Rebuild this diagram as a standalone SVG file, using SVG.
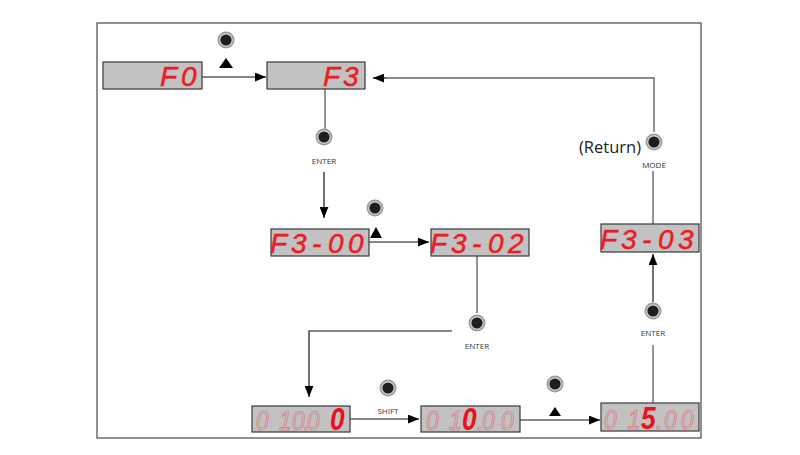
<svg xmlns="http://www.w3.org/2000/svg" width="800" height="455" viewBox="0 0 800 455">
<style>
.disp{fill:#c2c2c2;stroke:#3a3a3a;stroke-width:1.2}
.seg{font-family:"Liberation Sans",Arial,sans-serif;font-style:italic;font-size:28px;fill:#ea1c24;stroke:#ea1c24;stroke-width:0.5}
.bot{font-family:"Liberation Sans",Arial,sans-serif;font-style:italic;font-size:27px}
.dim{fill:none;stroke:#e2605f;stroke-width:0.6}
.hot{font-weight:bold;font-size:31px;fill:#ee0f18;stroke:none}
.lbl{font-family:"Open Sans","Noto Sans",sans-serif;font-size:8px;fill:#333;text-anchor:middle}
.ret{font-family:"Open Sans","Noto Sans",sans-serif;font-size:16.5px;fill:#222;text-anchor:end}
.ln{fill:none;stroke:#111;stroke-width:1.2}
.gl{fill:none;stroke:#666;stroke-width:1.4}
.tri{fill:#000}
</style>
<defs>
<marker id="ah" viewBox="0 0 10 8" refX="10" refY="4" markerWidth="11" markerHeight="9" markerUnits="userSpaceOnUse" orient="auto">
<path d="M0,0 L10,4 L0,8 Z" fill="#000"/>
</marker>
<g id="btn">
<circle r="8.5" fill="#9c9c9c"/>
<circle r="6.8" fill="#d6d6d6"/>
<circle r="5.6" fill="#1e1e1e"/>
</g>
</defs>
<rect x="0" y="0" width="800" height="455" fill="#fff"/>
<rect x="97" y="23" width="604" height="415" fill="none" stroke="#555" stroke-width="1.3"/>

<g id="connectors">
<line class="ln" x1="202" y1="77" x2="266" y2="77" marker-end="url(#ah)"/>
<line class="gl" x1="325" y1="89" x2="325" y2="129"/>
<line class="ln" x1="324" y1="172" x2="324" y2="218" marker-end="url(#ah)"/>
<line class="ln" x1="369" y1="242" x2="429" y2="242" marker-end="url(#ah)"/>
<line class="gl" x1="477" y1="256" x2="477" y2="313"/>
<polyline class="ln" points="452,331 309,331 309,397" marker-end="url(#ah)"/>
<line class="ln" x1="350" y1="419" x2="419" y2="419" marker-end="url(#ah)"/>
<line class="ln" x1="520" y1="420" x2="600" y2="420" marker-end="url(#ah)"/>
<line class="gl" x1="653" y1="403" x2="653" y2="345"/>
<line class="ln" x1="653" y1="302" x2="653" y2="254" marker-end="url(#ah)"/>
<line class="gl" x1="653" y1="224" x2="653" y2="171"/>
<polyline class="gl" points="654,132 654,78 385,78"/>
<line class="ln" x1="386" y1="78" x2="373" y2="78" marker-end="url(#ah)"/>
</g>

<g id="n-f0">
<rect class="disp" x="103" y="62" width="99" height="27"/>
<text class="seg" x="160 181" y="86">F0</text>
</g>
<g id="n-f3">
<rect class="disp" x="267" y="62" width="98" height="27"/>
<text class="seg" x="323 343" y="86">F3</text>
</g>
<g id="n-f300">
<rect class="disp" x="271" y="229" width="98" height="27"/>
<text class="seg" x="270 291 312 328 348" y="253">F3-00</text>
</g>
<g id="n-f302">
<rect class="disp" x="431" y="229" width="98" height="27"/>
<text class="seg" x="430 451 472 488 508" y="253">F3-02</text>
</g>
<g id="n-f303">
<rect class="disp" x="601" y="224" width="98" height="28"/>
<text class="seg" x="600 621 642 658 678" y="249">F3-03</text>
</g>
<g id="n-d1">
<rect class="disp" x="252" y="406" width="98" height="26"/>
<text class="bot" transform="translate(252,429.5) scale(0.85,1)"><tspan class="dim" x="4.71 31.76 47.06 60.59 64.71" y="0">010.0</tspan><tspan class="hot" x="91.76" y="0">0</tspan></text>
</g>
<g id="n-d2">
<rect class="disp" x="421" y="406" width="99" height="26"/>
<text class="bot" transform="translate(421,429.5) scale(0.85,1)"><tspan class="dim" x="5.88 32.94" y="0">01</tspan><tspan class="hot" x="48.24" y="0">0</tspan><tspan class="dim" x="65.8 71.76 94.12" y="0">.00</tspan></text>
</g>
<g id="n-d3">
<rect class="disp" x="601" y="403" width="98" height="28"/>
<text class="bot" transform="translate(601,428.5) scale(0.85,1)"><tspan class="dim" x="3.53 31.18" y="0">01</tspan><tspan class="hot" x="47.06" y="0">5</tspan><tspan class="dim" x="64.6 74.12 94.12" y="0">.00</tspan></text>
</g>

<g id="b-up1"><use href="#btn" x="226" y="40"/><polygon class="tri" points="219,68 233,68 226,58"/></g>
<g id="b-enter1"><use href="#btn" x="324" y="137"/><text class="lbl" x="324" y="164">ENTER</text></g>
<g id="b-up2"><use href="#btn" x="375" y="208"/><polygon class="tri" points="370,238 382,238 376,227"/></g>
<g id="b-enter2"><use href="#btn" x="477" y="323"/><text class="lbl" x="477" y="349">ENTER</text></g>
<g id="b-shift"><use href="#btn" x="388" y="388"/><text class="lbl" x="388" y="414">SHIFT</text></g>
<g id="b-up3"><use href="#btn" x="555" y="384"/><polygon class="tri" points="549,416 561,416 555,407"/></g>
<g id="b-enter3"><use href="#btn" x="653" y="311"/><text class="lbl" x="653" y="336">ENTER</text></g>
<g id="b-mode"><use href="#btn" x="654" y="142"/><text class="lbl" x="654" y="168">MODE</text><text class="ret" x="641" y="153">(Return)</text></g>
</svg>
